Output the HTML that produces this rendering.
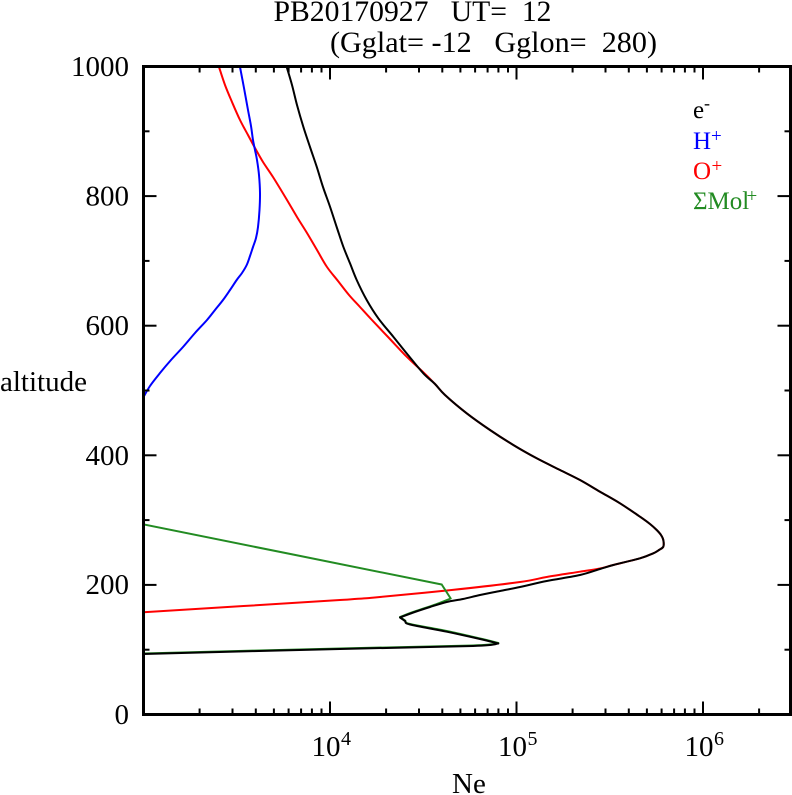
<!DOCTYPE html>
<html>
<head>
<meta charset="utf-8">
<style>
  html, body { margin: 0; padding: 0; background: #ffffff; }
  svg { display: block; }
  text { font-family: "Liberation Serif", "DejaVu Serif", serif; }
</style>
</head>
<body>
<svg id="chart" width="792" height="795" viewBox="0 0 792 795" xmlns="http://www.w3.org/2000/svg">
  <rect x="0" y="0" width="792" height="795" fill="#ffffff"/>

  <!-- Title -->
  <text x="273.5" y="21" font-size="30" fill="#000" xml:space="preserve" textLength="278" lengthAdjust="spacingAndGlyphs">PB20170927   UT=  12</text>
  <text x="330" y="52" font-size="30" fill="#000" xml:space="preserve" textLength="327" lengthAdjust="spacingAndGlyphs">(Gglat= -12   Gglon=  280)</text>

  <defs>
    <clipPath id="plot">
      <rect x="143.5" y="66.5" width="647" height="648"/>
    </clipPath>
  </defs>

  <!-- Curves -->
  <g id="curves" clip-path="url(#plot)" fill="none" stroke-width="2" stroke-linejoin="round" stroke-linecap="round">
    <!-- O+ red -->
    <polyline id="cred" stroke="#ff0000" points="219,67 225,85 232,102 240,120 248,135 255,148 263,162 273,177 287,200 297,217 307,233 317,250 327,267 338,281 349,295 360,307 371,319 389,338 406.7,356.7 423,372 435,384 445,395 466.7,413.3 490,430 513.3,445 536.7,458.3 560,470 580,480 600,491.7 620,503.3 640,516.7 650,524 656.7,530 661,535 663.3,540 663.3,546.7 659,550 653.3,553.3 640,558.3 613.3,565 600,568.5 580,571.7 546.7,577 520,582 451.7,590 380,597 340,600 143,612.3"/>
    <!-- H+ blue -->
    <polyline id="cblue" stroke="#0000ff" points="240,67 244,88 248,110 251,126 253,140 255,150 257,160 259,175 260,193 259.5,210 258,227 256,238 253,247 250,256 246.7,265 242,273 236.7,280 230,290 223,300 215,310 207,320 195,333 183,347 171,360 160,373 150,386 143,398"/>
    <!-- Mol+ green -->
    <polyline id="cgreen" stroke="#228b22" points="143,524.3 441.7,584.5 450.7,598.5 438,603.5 426.7,607.5 413.3,612 400,617 405,620.5 410,624 446.7,631 480,638.5 498.3,643 473,645.5 340,648.5 143,653.5"/>
    <!-- e- black -->
    <polyline id="cblack" stroke="#000000" points="286.7,67 292,85 297,105 303.3,126.7 310,147 316.7,166.7 323,187 330,206.7 337,228 343.3,246.7 350,263.3 356.7,280 366.7,300 378.3,318.3 393.3,336.7 408,355 423.3,373.3 435,384 445,395 466.7,413.3 490,430 513.3,445 536.7,458.3 560,470 580,480 600,491.7 620,503.3 640,516.7 650,524 656.7,530 661,535 663.3,540 663.3,546.7 659,550 653.3,553.3 640,558.3 613.3,565 600,569 580,575 546.7,581 520,587 500,591 480,595 463,599 446.7,602 430,607 413.3,612.5 400,617.5 405,621 410,624.5 446.7,631.7 480,639 498.3,643.5 473,646 340,649 143,654"/>
  </g>

  <!-- Axes box -->
  <rect x="143.5" y="66.5" width="647" height="648" fill="none" stroke="#000" stroke-width="3"/>

  <!-- Ticks -->
  <g stroke="#000" stroke-width="2">
    <line x1="143.5" y1="584.9" x2="156.5" y2="584.9"/>
    <line x1="143.5" y1="455.3" x2="156.5" y2="455.3"/>
    <line x1="143.5" y1="325.7" x2="156.5" y2="325.7"/>
    <line x1="143.5" y1="196.1" x2="156.5" y2="196.1"/>
    <line x1="143.5" y1="649.7" x2="149.5" y2="649.7"/>
    <line x1="143.5" y1="520.1" x2="149.5" y2="520.1"/>
    <line x1="143.5" y1="390.5" x2="149.5" y2="390.5"/>
    <line x1="143.5" y1="260.9" x2="149.5" y2="260.9"/>
    <line x1="143.5" y1="131.3" x2="149.5" y2="131.3"/>
    <line x1="790.5" y1="584.9" x2="777.5" y2="584.9"/>
    <line x1="790.5" y1="455.3" x2="777.5" y2="455.3"/>
    <line x1="790.5" y1="325.7" x2="777.5" y2="325.7"/>
    <line x1="790.5" y1="196.1" x2="777.5" y2="196.1"/>
    <line x1="790.5" y1="649.7" x2="784.5" y2="649.7"/>
    <line x1="790.5" y1="520.1" x2="784.5" y2="520.1"/>
    <line x1="790.5" y1="390.5" x2="784.5" y2="390.5"/>
    <line x1="790.5" y1="260.9" x2="784.5" y2="260.9"/>
    <line x1="790.5" y1="131.3" x2="784.5" y2="131.3"/>
    <line x1="330" y1="714.5" x2="330" y2="701.5"/>
    <line x1="516.5" y1="714.5" x2="516.5" y2="701.5"/>
    <line x1="703" y1="714.5" x2="703" y2="701.5"/>
    <line x1="330" y1="66.5" x2="330" y2="79.5"/>
    <line x1="516.5" y1="66.5" x2="516.5" y2="79.5"/>
    <line x1="703" y1="66.5" x2="703" y2="79.5"/>
  </g>
  <g stroke="#000" stroke-width="2">
    <path d="M199.6 714.5v-6 M232.5 714.5v-6 M255.8 714.5v-6 M273.9 714.5v-6 M288.6 714.5v-6 M301.1 714.5v-6 M311.9 714.5v-6 M321.5 714.5v-6
             M386.1 714.5v-6 M419 714.5v-6 M442.3 714.5v-6 M460.4 714.5v-6 M475.1 714.5v-6 M487.6 714.5v-6 M498.4 714.5v-6 M508 714.5v-6
             M572.6 714.5v-6 M605.5 714.5v-6 M628.8 714.5v-6 M646.9 714.5v-6 M661.6 714.5v-6 M674.1 714.5v-6 M684.9 714.5v-6 M694.5 714.5v-6
             M759.1 714.5v-6"/>
    <path d="M199.6 66.5v6 M232.5 66.5v6 M255.8 66.5v6 M273.9 66.5v6 M288.6 66.5v6 M301.1 66.5v6 M311.9 66.5v6 M321.5 66.5v6
             M386.1 66.5v6 M419 66.5v6 M442.3 66.5v6 M460.4 66.5v6 M475.1 66.5v6 M487.6 66.5v6 M498.4 66.5v6 M508 66.5v6
             M572.6 66.5v6 M605.5 66.5v6 M628.8 66.5v6 M646.9 66.5v6 M661.6 66.5v6 M674.1 66.5v6 M684.9 66.5v6 M694.5 66.5v6
             M759.1 66.5v6"/>
  </g>

  <!-- Y tick labels -->
  <g font-size="29" fill="#000" text-anchor="end">
    <text x="129" y="724">0</text>
    <text x="129" y="594">200</text>
    <text x="129" y="465">400</text>
    <text x="129" y="335">600</text>
    <text x="129" y="205.5">800</text>
    <text x="129" y="76">1000</text>
  </g>
  <text x="0" y="391" font-size="29" fill="#000">altitude</text>

  <!-- X tick labels -->
  <g fill="#000">
    <text x="311.5" y="756" font-size="29">10</text>
    <text x="341" y="745" font-size="20">4</text>
    <text x="498" y="756" font-size="29">10</text>
    <text x="527.5" y="745" font-size="20">5</text>
    <text x="684.5" y="756" font-size="29">10</text>
    <text x="714" y="745" font-size="20">6</text>
  </g>
  <text x="452" y="793" font-size="29" fill="#000">Ne</text>

  <!-- Legend -->
  <g font-size="25">
    <text x="693" y="118" fill="#000">e</text>
    <text x="704" y="109" font-size="18" fill="#000">-</text>
    <text x="693" y="149" fill="#0000ff">H</text>
    <text x="711" y="142" font-size="19" fill="#0000ff">+</text>
    <text x="693" y="179" fill="#ff0000">O</text>
    <text x="711.5" y="172" font-size="19" fill="#ff0000">+</text>
    <text x="693" y="209" fill="#228b22">ΣMol</text>
    <text x="746.5" y="202" font-size="19" fill="#228b22">+</text>
  </g>
</svg>
<script>
(function(){
  var NS = "http://www.w3.org/2000/svg";
  var corners = {
    cred: [],
    cblue: [],
    cgreen: ["441.7,584.5","450.7,598.5","400,617","498.3,643"],
    cblack: ["400,617.5","498.3,643.5"]
  };
  function crPath(pts){
    var d = "M" + pts[0][0] + " " + pts[0][1];
    for (var i = 0; i < pts.length - 1; i++){
      var p0 = pts[i-1] || pts[i], p1 = pts[i], p2 = pts[i+1], p3 = pts[i+2] || pts[i+1];
      var c1x = p1[0] + (p2[0]-p0[0])/6, c1y = p1[1] + (p2[1]-p0[1])/6;
      var c2x = p2[0] - (p3[0]-p1[0])/6, c2y = p2[1] - (p3[1]-p1[1])/6;
      d += " C" + c1x.toFixed(2) + " " + c1y.toFixed(2) + " " + c2x.toFixed(2) + " " + c2y.toFixed(2) + " " + p2[0] + " " + p2[1];
    }
    return d;
  }
  try {
    Object.keys(corners).forEach(function(id){
      var pl = document.getElementById(id);
      if (!pl) return;
      var raw = pl.getAttribute("points").trim().split(/\s+/);
      var pts = raw.map(function(s){ var a = s.split(","); return [parseFloat(a[0]), parseFloat(a[1])]; });
      var segs = [], cur = [];
      raw.forEach(function(s, i){
        cur.push(pts[i]);
        if (corners[id].indexOf(s) >= 0 && i > 0 && i < raw.length - 1){
          segs.push(cur); cur = [pts[i]];
        }
      });
      segs.push(cur);
      var d = segs.map(crPath).join(" ");
      var path = document.createElementNS(NS, "path");
      path.setAttribute("d", d);
      path.setAttribute("stroke", pl.getAttribute("stroke"));
      path.setAttribute("fill", "none");
      pl.parentNode.replaceChild(path, pl);
    });
  } catch(e) {}
})();
</script>
</body>
</html>
